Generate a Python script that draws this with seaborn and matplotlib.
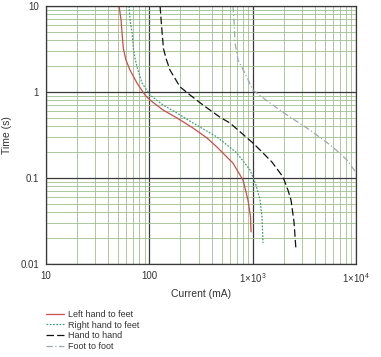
import numpy as np
import pandas as pd
import matplotlib.pyplot as plt
import matplotlib.ticker as mticker
import seaborn as sns

sns.set_style("white")
plt.rcParams["font.family"] = ["Liberation Sans", "DejaVu Sans"]
plt.rcParams["mathtext.fontset"] = "custom"
plt.rcParams["mathtext.rm"] = "Liberation Sans"

# current (mA) and time (s)
left_i = [50.9, 53.2, 54.4, 56.0, 59.4, 65.0, 76.0, 90.8, 101.6, 135.8, 185.4, 264.9, 362, 452, 646, 807, 902, 955, 966]
left_t = [10, 6.87, 4.85, 3.2, 2.35, 1.80, 1.27, 0.923, 0.807, 0.618, 0.499, 0.381, 0.292, 0.229, 0.149, 0.0948, 0.0555, 0.0352, 0.0236]

right_i = [63.5, 65.0, 68.1, 70.0, 72.8, 76.0, 84.9, 101.6, 135.8, 185.4, 264.9, 452, 706, 944, 1079, 1180, 1233, 1262]
right_t = [10, 6.87, 4.85, 3.2, 2.45, 1.95, 1.27, 0.923, 0.706, 0.570, 0.436, 0.300, 0.195, 0.124, 0.083, 0.0555, 0.0352, 0.0175]

hand_i = [127, 130, 133, 137, 146, 158.5, 198, 248, 331, 483, 604, 1009, 1180, 1542, 1968, 2203, 2355, 2518, 2630]
hand_t = [10, 6.87, 4.85, 3.2, 2.4, 1.80, 1.15, 0.923, 0.706, 0.510, 0.436, 0.255, 0.212, 0.153, 0.103, 0.072, 0.0555, 0.0308, 0.0147]

foot_i = [646, 660, 676, 723, 843, 1009, 1233, 1473, 2152, 3597, 6004, 8200, 9900]
foot_t = [10, 6.87, 3.71, 2.35, 1.66, 1.05, 0.875, 0.745, 0.541, 0.361, 0.229, 0.162, 0.118]

labels = ["Left hand to feet", "Right hand to feet", "Hand to hand", "Foot to foot"]
colors = ["#d04b4b", "#3f9c80", "#111111", "#9ea8ac"]
styles = ["-", (0, (1.4, 1.2)), (0, (6, 2.5)), (0, (5, 2, 1, 2))]

fig = plt.figure(figsize=(3.81, 3.57), dpi=100)
ax = fig.add_axes([0.121, 0.2605, 0.813, 0.7225])

series = [(left_i, left_t), (right_i, right_t), (hand_i, hand_t), (foot_i, foot_t)]
for (xi, ti), lab, c, ls in zip(series, labels, colors, styles):
    df = pd.DataFrame({"current": xi, "time": ti})
    sns.lineplot(data=df, x="current", y="time", sort=False, ax=ax,
                 color=c, linestyle=ls, linewidth=0.9, label=lab)

ax.set_xscale("log")
ax.set_yscale("log")
ax.set_xlim(10, 1e4)
ax.set_ylim(0.01, 10)

ax.xaxis.set_major_locator(mticker.FixedLocator([10, 100, 1000, 10000]))
ax.xaxis.set_major_formatter(mticker.FixedFormatter(["10", "100", r"1×10$^3$", r"1×10$^4$"]))
ax.yaxis.set_major_locator(mticker.FixedLocator([0.01, 0.1, 1, 10]))
ax.yaxis.set_major_formatter(mticker.FixedFormatter(["0.01", "0.1", "1", "10"]))
ax.xaxis.set_minor_locator(mticker.LogLocator(base=10, subs=np.arange(2, 10)))
ax.yaxis.set_minor_locator(mticker.LogLocator(base=10, subs=np.arange(2, 10)))
ax.xaxis.set_minor_formatter(mticker.NullFormatter())
ax.yaxis.set_minor_formatter(mticker.NullFormatter())

ax.grid(which="minor", color="#9fbe8e", linewidth=0.6)
ax.grid(which="major", color="#3a3a3a", linewidth=0.9)
ax.set_axisbelow(True)
ax.tick_params(which="both", length=0, labelsize=7, colors="#333333", pad=5)
for s in ax.spines.values():
    s.set_color("#3a3a3a")
    s.set_linewidth(0.9)

ax.set_xlabel("Current (mA)", fontsize=7.5, color="#333333", labelpad=3)
ax.set_ylabel("Time (s)", fontsize=7.5, color="#333333", labelpad=6)

handles, labs = ax.get_legend_handles_labels()
ax.get_legend().remove()
fig.legend(handles, labs, loc="upper left", bbox_to_anchor=(0.11, 0.145),
           frameon=False, fontsize=6.5, handlelength=2.0, handletextpad=0.4,
           labelspacing=0.2, borderpad=0, labelcolor="#333333")

fig.savefig("out.png", dpi=100)
